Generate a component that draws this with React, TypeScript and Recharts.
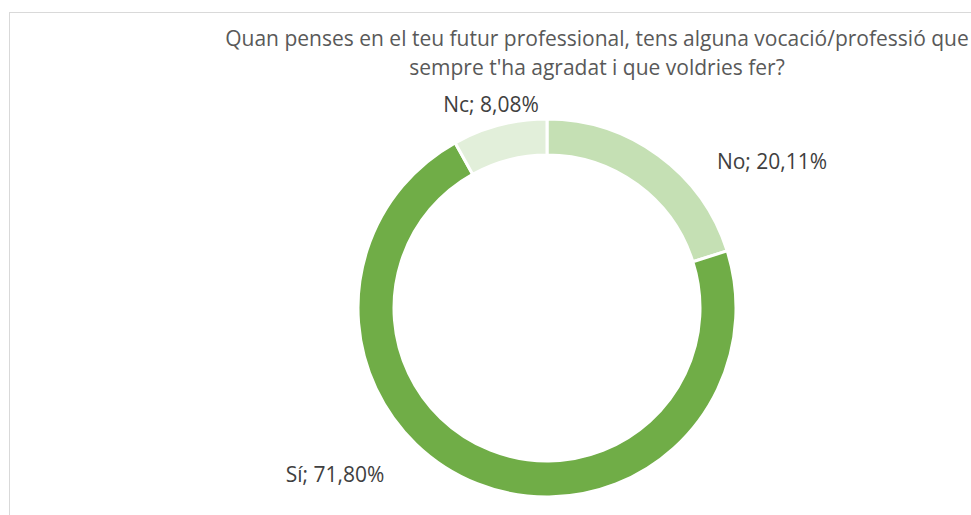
import { Cell, Pie, PieChart } from "recharts";

const categories = ["No", "Sí", "Nc"];
const shares = [20.11, 71.8, 8.08];
const titleLines = [
  "Quan penses en el teu futur professional, tens alguna vocació/professió que",
  "sempre t'ha agradat i que voldries fer?",
];

const COLORS = ["#c5e0b4", "#70ad47", "#e2efda"];
const LABEL_OFFSETS = [
  [225, -139],
  [-212, 174],
  [-56, -196],
];
const FONT = "'Open Sans', sans-serif";

const data = categories.map((name, i) => ({ name, value: shares[i] }));

function renderLabel(props: any) {
  const { cx, cy, index, name, value } = props;
  const [dx, dy] = LABEL_OFFSETS[index];
  return (
    <text
      x={cx + dx}
      y={cy + dy}
      textAnchor="middle"
      fill="#404040"
      fontSize={21}
      fontFamily={FONT}
    >
      {`${name}; ${Number(value).toFixed(2).replace(".", ",")}%`}
    </text>
  );
}

export default function App() {
  return (
    <div style={{ position: "fixed", left: 0, top: 0, width: 971, height: 515, background: "#fff", overflow: "hidden" }}>
      <div
        style={{
          position: "absolute",
          left: 9,
          top: 12,
          width: 1000,
          height: 600,
          border: "1.5px solid #d9d9d9",
        }}
      />
      <div
        style={{
          position: "absolute",
          left: 197,
          top: 24,
          width: 800,
          textAlign: "center",
          whiteSpace: "nowrap",
          fontFamily: FONT,
          fontSize: 21,
          lineHeight: "29px",
          color: "#595959",
        }}
      >
        {titleLines[0]}
        <br />
        {titleLines[1]}
      </div>
      <div style={{ position: "absolute", left: 0, top: 0 }}>
        <PieChart width={971} height={515}>
          <Pie
            data={data}
            dataKey="value"
            nameKey="name"
            cx={542}
            cy={303}
            innerRadius={153}
            outerRadius={189}
            startAngle={90}
            endAngle={-270}
            stroke="#ffffff"
            strokeWidth={3}
            label={renderLabel}
            labelLine={false}
            isAnimationActive={false}
          >
            {data.map((d, i) => (
              <Cell key={d.name} fill={COLORS[i]} />
            ))}
          </Pie>
        </PieChart>
      </div>
    </div>
  );
}
